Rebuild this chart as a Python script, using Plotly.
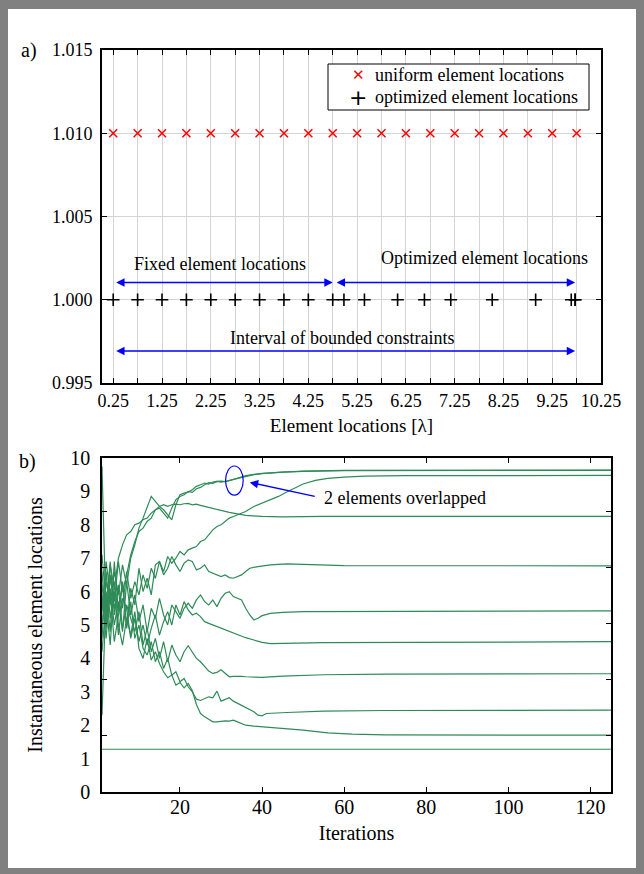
import plotly.graph_objects as go

# ---------------- panel a) element positions ----------------
uniform_pos = [0.25, 0.75, 1.25, 1.75, 2.25, 2.75, 3.25, 3.75, 4.25, 4.75,
               5.25, 5.75, 6.25, 6.75, 7.25, 7.75, 8.25, 8.75, 9.25, 9.75]
fixed_pos = [0.25, 0.75, 1.25, 1.75, 2.25, 2.75, 3.25, 3.75, 4.25, 4.75]
optimized_pos = [4.98, 5.40, 6.08, 6.63, 7.17, 8.02, 8.91, 9.64, 9.72, 9.72]
uniform_level = 1.010
optimized_level = 1.000

xtick_vals_a = [0.25, 0.75, 1.25, 1.75, 2.25, 2.75, 3.25, 3.75, 4.25, 4.75, 5.25,
                5.75, 6.25, 6.75, 7.25, 7.75, 8.25, 8.75, 9.25, 9.75, 10.25]
xtick_text_a = ["0.25", "", "1.25", "", "2.25", "", "3.25", "", "4.25", "", "5.25",
                "", "6.25", "", "7.25", "", "8.25", "", "9.25", "", "10.25"]
ytick_vals_a = [0.995, 1.000, 1.005, 1.010, 1.015]
ytick_text_a = ["0.995", "1.000", "1.005", "1.010", "1.015"]
legend_labels = ["uniform element locations", "optimized element locations"]

# ---------------- panel b) element trajectories ----------------
iters_early = list(range(1, 37))

e1_early = [5.0, 6.3, 5.6, 6.6, 5.9, 6.8, 6.2, 7.0, 7.4, 7.9, 8.2, 8.5, 8.85, 8.7, 8.55, 8.45, 8.3, 8.15,
            8.6, 8.9, 8.95, 8.98, 9.05, 9.15, 9.2, 9.25, 9.22, 9.28, 9.3, 9.28, 9.3, 9.33, 9.35, 9.4, 9.43, 9.46]
e1_tail_it = [38, 40, 45, 50, 60, 125]
e1_tail = [9.5, 9.53, 9.58, 9.6, 9.62, 9.63]

e2_early = [9.75, 5.2, 6.8, 6.1, 7.0, 7.4, 7.7, 7.8, 8.0, 8.05, 8.15, 8.2, 8.35, 8.45, 8.5, 8.35, 8.2, 8.5,
            8.75, 8.85, 8.9, 9.0, 8.97, 9.08, 9.12, 9.2, 9.26, 9.24, 9.3, 9.31, 9.29, 9.32, 9.36, 9.41, 9.45, 9.47]
e2_tail_it = [38, 40, 45, 50, 60, 125]
e2_tail = [9.51, 9.54, 9.58, 9.61, 9.63, 9.64]

e3_early = [7.1, 5.6, 6.9, 5.3, 6.2, 5.5, 6.6, 5.8, 6.3, 5.9, 6.5, 6.1, 6.7, 6.4, 6.9, 6.6, 7.05, 6.85,
            7.0, 7.2, 7.1, 7.25, 7.3, 7.35, 7.5, 7.55, 7.7, 7.85, 7.95, 8.0, 8.1, 8.2, 8.25, 8.3, 8.35, 8.4]
e3_tail_it = [38, 40, 42, 44, 46, 48, 50, 53, 56, 60, 65, 75, 125]
e3_tail = [8.55, 8.65, 8.75, 8.85, 8.98, 9.1, 9.22, 9.33, 9.39, 9.43, 9.46, 9.47, 9.48]

e4_early = [6.6, 4.9, 6.4, 5.7, 6.9, 6.0, 6.5, 7.1, 7.5, 7.8, 7.9, 8.1, 8.2, 8.45, 8.55, 8.6, 8.55, 8.6,
            8.62, 8.6, 8.63, 8.64, 8.6, 8.62, 8.58, 8.55, 8.5, 8.48, 8.45, 8.42, 8.4, 8.37, 8.35, 8.32, 8.3, 8.28]
e4_tail_it = [40, 45, 55, 125]
e4_tail = [8.25, 8.24, 8.25, 8.25]

e5_early = [2.3, 6.0, 4.8, 6.9, 5.4, 6.3, 5.0, 6.1, 5.6, 6.7, 6.0, 6.4, 5.9, 6.8, 6.9, 6.5, 6.7, 7.05,
            6.8, 6.6, 6.85, 6.95, 6.9, 6.65, 6.7, 6.8, 6.6, 6.55, 6.5, 6.45, 6.5, 6.42, 6.4, 6.45, 6.5, 6.6]
e5_tail_it = [37, 39, 42, 46, 52, 60, 125]
e5_tail = [6.7, 6.75, 6.8, 6.83, 6.8, 6.78, 6.77]

e6_early = [5.9, 4.6, 6.1, 5.0, 5.7, 4.8, 6.3, 5.3, 5.9, 5.1, 5.6, 4.8, 5.5, 5.2, 5.8, 5.3, 5.0, 5.6,
            5.4, 5.2, 5.5, 5.65, 5.5, 5.75, 5.9, 5.7, 5.6, 5.75, 5.55, 5.8, 5.95, 6.0, 5.85, 5.8, 5.75, 5.5]
e6_tail_it = [37, 38, 39, 40, 42, 45, 50, 125]
e6_tail = [5.3, 5.15, 5.2, 5.28, 5.35, 5.38, 5.4, 5.42]

e7_early = [4.6, 6.6, 5.2, 6.0, 4.7, 5.8, 5.5, 4.6, 5.2, 4.5, 5.0, 4.4, 4.9, 5.3, 4.7, 5.1, 5.4, 5.0,
            5.6, 5.3, 5.7, 5.45, 5.3, 5.35, 5.25, 5.1, 5.05, 5.0, 4.95, 4.9, 4.86, 4.82, 4.77, 4.72, 4.67, 4.62]
e7_tail_it = [38, 40, 42, 45, 55, 125]
e7_tail = [4.55, 4.48, 4.44, 4.45, 4.47, 4.5]

e8_early = [6.2, 5.0, 6.5, 5.5, 6.1, 4.9, 5.6, 5.2, 4.8, 5.4, 4.4, 4.9, 4.2, 4.6, 4.0, 4.5, 3.9, 4.4,
            4.1, 3.9, 4.2, 4.38, 4.2, 4.0, 3.9, 3.75, 3.62, 3.55, 3.58, 3.66, 3.55, 3.45, 3.46, 3.47, 3.46, 3.45]
e8_tail_it = [38, 40, 45, 55, 70, 125]
e8_tail = [3.44, 3.43, 3.47, 3.51, 3.53, 3.54]

e9_early = [5.4, 6.9, 5.9, 4.5, 5.3, 6.2, 4.9, 5.7, 4.6, 5.0, 4.3, 4.1, 4.5, 3.9, 4.2, 3.7, 4.0, 3.5,
            3.6, 3.3, 3.4, 3.15, 3.0, 2.78, 2.74, 2.8, 2.85, 2.82, 3.02, 2.72, 2.78, 2.82, 2.72, 2.66, 2.6, 2.52]
e9_tail_it = [37, 38, 39, 40, 41, 43, 46, 55, 70, 125]
e9_tail = [2.46, 2.4, 2.3, 2.28, 2.35, 2.37, 2.38, 2.42, 2.44, 2.45]

e10_early = [4.2, 5.7, 4.4, 6.3, 5.0, 4.4, 5.2, 4.7, 5.4, 4.3, 4.0, 4.6, 3.95, 4.2, 3.85, 3.6, 3.42, 3.5,
             3.2, 3.28, 3.12, 3.25, 3.03, 2.62, 2.35, 2.25, 2.18, 2.1, 2.1, 2.12, 2.13, 2.12, 2.15, 2.1, 2.05, 2.0]
e10_tail_it = [38, 40, 43, 46, 50, 56, 62, 70, 125]
e10_tail = [1.97, 1.95, 1.93, 1.9, 1.85, 1.77, 1.73, 1.71, 1.7]

e11_it = [1, 125]
e11_val = [1.28, 1.28]

xtick_vals_b = [20, 40, 60, 80, 100, 120]
ytick_vals_b = [0, 1, 2, 3, 4, 5, 6, 7, 8, 9, 10]
ytick_marks_b = [1.68, 3.36, 5.04, 6.72, 8.40]

FONT = "Liberation Serif"
GREEN = "#2e8b57"
BLUE = "#0000ff"
W, H = 644, 874

fig = go.Figure()

# panel a markers
fig.add_trace(go.Scatter(
    x=uniform_pos, y=[uniform_level] * len(uniform_pos), mode="markers",
    name=legend_labels[0], xaxis="x", yaxis="y", showlegend=False,
    marker=dict(symbol="x-thin", size=8, color="red", line=dict(color="red", width=1.5)),
))
all_opt = fixed_pos + optimized_pos
fig.add_trace(go.Scatter(
    x=all_opt, y=[optimized_level] * len(all_opt), mode="markers",
    name=legend_labels[1], xaxis="x", yaxis="y", showlegend=False,
    marker=dict(symbol="cross-thin", size=9, color="black", line=dict(color="black", width=1.6)),
))

# panel b trajectories
series = [
    (e1_early, e1_tail_it, e1_tail), (e2_early, e2_tail_it, e2_tail),
    (e3_early, e3_tail_it, e3_tail), (e4_early, e4_tail_it, e4_tail),
    (e5_early, e5_tail_it, e5_tail), (e6_early, e6_tail_it, e6_tail),
    (e7_early, e7_tail_it, e7_tail), (e8_early, e8_tail_it, e8_tail),
    (e9_early, e9_tail_it, e9_tail), (e10_early, e10_tail_it, e10_tail),
]
for early, tail_it, tail in series:
    fig.add_trace(go.Scatter(
        x=iters_early + tail_it, y=early + tail, mode="lines", showlegend=False,
        xaxis="x2", yaxis="y2", line=dict(color=GREEN, width=1.2),
    ))
fig.add_trace(go.Scatter(
    x=e11_it, y=e11_val, mode="lines", showlegend=False,
    xaxis="x2", yaxis="y2", line=dict(color=GREEN, width=1.2),
))

axis_common = dict(showline=True, linecolor="black", linewidth=1.6, mirror="ticks",
                   ticks="inside", ticklen=5, tickcolor="black", tickwidth=1,
                   zeroline=False, automargin=False,
                   tickfont=dict(family=FONT, size=18, color="black"))

dom_x_a = [102 / W, 601 / W]
dom_y_a = [1 - 383 / H, 1 - 50 / H]
dom_x_b = [102 / W, 611 / W]
dom_y_b = [1 - 792 / H, 1 - 458 / H]

fig.update_layout(
    width=W, height=H, margin=dict(l=0, r=0, t=0, b=0, autoexpand=False),
    paper_bgcolor="#808080", plot_bgcolor="white", showlegend=False,
    font=dict(family=FONT, size=18, color="black"),
    xaxis=dict(domain=dom_x_a, anchor="y", range=[0.02, 10.25],
               tickmode="array", tickvals=xtick_vals_a, ticktext=xtick_text_a,
               showgrid=True, gridcolor="#d4d4d4", gridwidth=1, ticklabelstandoff=1,
               title=dict(text="Element locations [λ]", font=dict(family=FONT, size=19), standoff=8),
               **axis_common),
    yaxis=dict(domain=dom_y_a, anchor="x", range=[0.995, 1.015],
               tickmode="array", tickvals=ytick_vals_a, ticktext=ytick_text_a,
               showgrid=True, gridcolor="#d4d4d4", gridwidth=1, ticklabelstandoff=4,
               **axis_common),
    xaxis2=dict(domain=dom_x_b, anchor="y2", range=[1, 125],
                tickmode="array", tickvals=xtick_vals_b, showgrid=False, ticklabelstandoff=-4,
                title=dict(text="Iterations", font=dict(family=FONT, size=20), standoff=9),
                **{**axis_common, "tickfont": dict(family=FONT, size=20, color="black")}),
    yaxis2=dict(domain=dom_y_b, anchor="x2", range=[0, 10],
                tickmode="array", tickvals=ytick_vals_b, showgrid=False, ticklabelstandoff=6,
                minor=dict(tickmode="array", tickvals=ytick_marks_b, ticks="inside",
                           ticklen=5, tickcolor="black", showgrid=False),
                title=dict(text="Instantaneous element locations", font=dict(family=FONT, size=20), standoff=22),
                **{**axis_common, "ticks": "", "tickfont": dict(family=FONT, size=20, color="black")}),
)

# white sheet inside the grey frame
fig.add_shape(type="rect", xref="paper", yref="paper", layer="below",
              x0=8 / W, x1=636 / W, y0=1 - 868 / H, y1=1 - 9 / H,
              fillcolor="white", line=dict(width=0))

# legend box for panel a (symbol + label rows)
fig.add_shape(type="rect", xref="paper", yref="paper", layer="above",
              x0=328 / W, x1=589 / W, y0=1 - 110 / H, y1=1 - 64 / H,
              fillcolor="white", line=dict(color="black", width=1))
legend_rows = [(75, "✕", "red", 15), (97, "+", "black", 22)]
for (row_y, sym, col, sym_size), label in zip(legend_rows, legend_labels):
    fig.add_annotation(xref="paper", yref="paper", x=358 / W, y=1 - row_y / H, text=sym,
                       showarrow=False, xanchor="center", yanchor="middle",
                       font=dict(family="DejaVu Sans", size=sym_size, color=col))
    fig.add_annotation(xref="paper", yref="paper", x=373 / W, y=1 - row_y / H, text=label,
                       showarrow=False, xanchor="left", yanchor="middle",
                       font=dict(family=FONT, size=18, color="black"))

# constraint / region arrows in panel a
arrow_style = dict(xref="x", yref="y", axref="x", ayref="y", showarrow=True, text="",
                   arrowhead=2, startarrowhead=2, arrowside="end+start",
                   arrowsize=1.2, startarrowsize=1.2, arrowwidth=1.4, arrowcolor=BLUE,
                   standoff=0, startstandoff=0)
fig.add_annotation(x=4.75, y=1.00104, ax=0.28, ay=1.00104, **arrow_style)
fig.add_annotation(x=9.72, y=1.00104, ax=4.80, ay=1.00104, **arrow_style)
fig.add_annotation(x=9.72, y=0.99692, ax=0.28, ay=0.99692, **arrow_style)

text_style = dict(xref="x", yref="y", showarrow=False, xanchor="center", yanchor="middle",
                  font=dict(family=FONT, size=18, color="black"))
fig.add_annotation(x=2.43, y=1.00214, text="Fixed element locations", **text_style)
fig.add_annotation(x=7.86, y=1.00250, text="Optimized element locations", **text_style)
fig.add_annotation(x=4.95, y=0.99770, text="Interval of bounded constraints", **text_style)

# overlapped-elements marker in panel b
fig.add_shape(type="circle", xref="x2", yref="y2", x0=31.1, x1=35.4, y0=8.89, y1=9.76,
              line=dict(color=BLUE, width=1.2))
fig.add_annotation(xref="x2", yref="y2", axref="x2", ayref="y2", x=37.0, y=9.27, ax=53.2, ay=8.84,
                   text="", showarrow=True, arrowhead=2, arrowsize=1.2, arrowwidth=1.4,
                   arrowcolor=BLUE, standoff=0)
fig.add_annotation(xref="x2", yref="y2", x=54.5, y=8.79, xanchor="left", yanchor="middle",
                   showarrow=False, text="2 elements overlapped",
                   font=dict(family=FONT, size=18, color="black"))

# panel tags
fig.add_annotation(xref="paper", yref="paper", x=29 / W, y=1 - 50 / H, text="a)", showarrow=False,
                   xanchor="center", yanchor="middle", font=dict(family=FONT, size=20, color="black"))
fig.add_annotation(xref="paper", yref="paper", x=27 / W, y=1 - 461 / H, text="b)", showarrow=False,
                   xanchor="center", yanchor="middle", font=dict(family=FONT, size=20, color="black"))

fig.write_html("out.html")
